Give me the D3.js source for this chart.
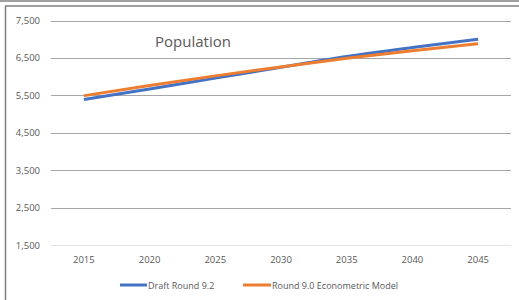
<!DOCTYPE html>
<html>
<head>
<meta charset="utf-8">
<script src="https://cdn.jsdelivr.net/npm/d3@7"></script>
<style>
  body { margin: 0; background: #fff; }
  text { font-family: "Open Sans", "Liberation Sans", sans-serif; fill: #595959; }
</style>
</head>
<body>
<script>
const years = [2015, 2020, 2025, 2030, 2035, 2040, 2045];
const draftRound92 = [5390, 5670, 5960, 6250, 6540, 6780, 7000];
const round90Econ = [5490, 5760, 6020, 6260, 6490, 6690, 6880];
const yTicks = [1500, 2500, 3500, 4500, 5500, 6500, 7500];
const seriesNames = ['Draft Round 9.2', 'Round 9.0 Econometric Model'];
const colors = ['#4472C4', '#ED7D31'];

const width = 519, height = 300;

const svg = d3.select('body').append('svg')
    .attr('width', width)
    .attr('height', height);

// frame
svg.append('line').attr('x1', 0).attr('x2', width).attr('y1', 1).attr('y2', 1)
    .attr('stroke', '#7f7f7f').attr('stroke-width', 1.5);
svg.append('line').attr('x1', 5).attr('x2', width).attr('y1', 6).attr('y2', 6)
    .attr('stroke', '#7f7f7f').attr('stroke-width', 1.5);
svg.append('line').attr('x1', 5.5).attr('x2', 5.5).attr('y1', 6).attr('y2', height)
    .attr('stroke', '#7f7f7f').attr('stroke-width', 1.5);

const plotLeft = 51, plotRight = 511;
const x = d3.scalePoint()
    .domain(years)
    .range([plotLeft, plotRight])
    .padding(0.5);

const y = d3.scaleLinear()
    .domain([1500, 7500])
    .range([245, 20.5]);

// gridlines
svg.append('g')
    .selectAll('line')
    .data(yTicks)
    .enter().append('line')
    .attr('x1', plotLeft)
    .attr('x2', plotRight)
    .attr('y1', d => Math.round(y(d)) + 0.5)
    .attr('y2', d => Math.round(y(d)) + 0.5)
    .attr('stroke', d => d === 1500 ? '#e3e3e3' : '#a6a6a6')
    .attr('stroke-width', 1);

// y labels
svg.append('g')
    .selectAll('text')
    .data(yTicks)
    .enter().append('text')
    .attr('x', 40)
    .attr('y', d => y(d) + 3.5)
    .attr('text-anchor', 'end')
    .style('font-size', '9.5px')
    .text(d => d3.format(',')(d));

// x labels
svg.append('g')
    .selectAll('text')
    .data(years)
    .enter().append('text')
    .attr('x', d => x(d))
    .attr('y', 263)
    .attr('text-anchor', 'middle')
    .style('font-size', '9.5px')
    .text(d => d);

// title
svg.append('text')
    .attr('x', 193)
    .attr('y', 47)
    .attr('text-anchor', 'middle')
    .style('font-size', '15px')
    .text('Population');

// lines
const line = d3.line()
    .x((d, i) => x(years[i]))
    .y(d => y(d))
    .curve(d3.curveMonotoneX);

[draftRound92, round90Econ].forEach((s, i) => {
    svg.append('path')
        .datum(s)
        .attr('fill', 'none')
        .attr('stroke', colors[i])
        .attr('stroke-width', 3)
        .attr('d', line);
});

// legend
const legendItems = [
    {x1: 120, x2: 147, tx: 148},
    {x1: 243, x2: 271, tx: 272},
];
legendItems.forEach((l, i) => {
    svg.append('line')
        .attr('x1', l.x1).attr('x2', l.x2)
        .attr('y1', 285).attr('y2', 285)
        .attr('stroke', colors[i])
        .attr('stroke-width', 3);
    svg.append('text')
        .attr('x', l.tx)
        .attr('y', 288.5)
        .style('font-size', '9px')
        .text(seriesNames[i]);
});
</script>
</body>
</html>
